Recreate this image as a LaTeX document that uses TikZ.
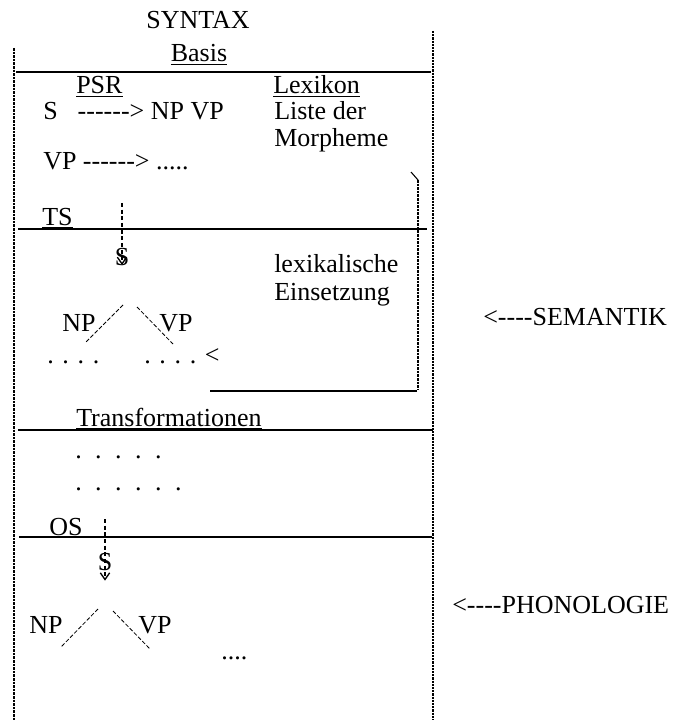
\documentclass[tikz,border=0pt]{standalone}
\usepackage{fontspec}
\setmainfont{Liberation Serif}[Ligatures=TeXOff]
\usetikzlibrary{arrows.meta}
\newcommand{\dotgap}{\hspace{10.1pt}}

\begin{document}
\begin{tikzpicture}[x=0.75pt,y=-0.75pt,>={Straight Barb[length=5pt,width=7pt]},
  every node/.style={inner sep=0pt,font=\fontsize{19.5}{23}\selectfont},
  txt/.style={anchor=base west},
  rule/.style={line width=1.2pt},
  frame/.style={line width=2pt,dash pattern=on 2pt off 0.7pt},
  thinframe/.style={line width=1.3pt,dash pattern=on 1.6pt off 0.8pt},
  branch/.style={line width=0.6pt,dash pattern=on 3pt off 1.5pt},
  derive/.style={line width=1pt,dash pattern=on 3pt off 2pt,->}]
\useasboundingbox (0,0) rectangle (673,720);
% frame of the syntax component
\draw[frame] (14,48) -- (14,720);
\draw[thinframe] (433,31) -- (433,720);
\draw[rule] (16,72) -- (431,72);
\draw[rule] (18,229) -- (427,229);
\draw[rule] (18,430) -- (433,430);
\draw[rule] (19,537) -- (432,537);
% bracket from the lexicon
\draw[line width=0.8pt] (411,172) -- (418,180);
\draw[frame] (418,180) -- (418,389);
\draw[rule] (417,391) -- (210,391);
% base
\node[anchor=base] (syntax) at (198,29) {SYNTAX};
\node[anchor=base] (basis) at (199,62) {\underline{Basis}};
\node[txt] (psr) at (76,94) {\underline{PSR}};
\node[txt] (lexikon) at (273,94) {\underline{Lexikon}};
\node[txt] (psrone) at (43,120) {S\hspace{15pt}------> NP VP};
\node[txt] (liste) at (274,120) {Liste der};
\node[txt] (morph) at (274,147) {Morpheme};
\node[txt] (psrtwo) at (43,170) {VP ------> .....};
% deep structure
\node[txt] (ts) at (42,225) {\underline{TS}};
\node[anchor=base] (tss) at (122,265) {S};
\coordinate (tstop) at (122,203);
\draw[derive] (tstop) -- (tss.base);
\node[txt] (lex) at (274,272) {lexikalische};
\node[txt] (einsetz) at (274,300) {Einsetzung};
\node[txt] (tsnp) at (62,331) {NP};
\node[txt] (tsvp) at (159,331) {VP};
\coordinate (tsnpa) at (123,305);
\coordinate (tsnpb) at (86,342);
\coordinate (tsvpa) at (137,307);
\coordinate (tsvpb) at (173,344);
\draw[branch] (tsnpa) -- (tsnpb);
\draw[branch] (tsvpa) -- (tsvpb);
\node[txt] (tsdotsl) at (47,363) {. . . .};
\node[txt] (tsdotsr) at (144,363) {. . . . <};
% transformations
\node[txt] (trans) at (76,426) {\underline{Transformationen}};
\node[txt] (transa) at (75,458) {.\dotgap.\dotgap.\dotgap.\dotgap.};
\node[txt] (transb) at (75,490) {.\dotgap.\dotgap.\dotgap.\dotgap.\dotgap.};
% surface structure
\node[txt] (os) at (49,535) {\underline{OS}};
\node[anchor=base] (oss) at (105,570) {S};
\coordinate (ostop) at (105,519);
\draw[derive] (ostop) -- ([yshift=-8pt]oss.base);
\node[txt] (osnp) at (29,633) {NP};
\node[txt] (osvp) at (138,633) {VP};
\coordinate (osnpa) at (98,609);
\coordinate (osnpb) at (61,647);
\coordinate (osvpa) at (113,611);
\coordinate (osvpb) at (150,649);
\draw[branch] (osnpa) -- (osnpb);
\draw[branch] (osvpa) -- (osvpb);
\node[txt] (osdots) at (221,659) {....};
% interfaces
\node[txt] (sem) at (483,325) {<----SEMANTIK};
\node[txt] (phon) at (452,613) {<----PHONOLOGIE};
\end{tikzpicture}
\end{document}
